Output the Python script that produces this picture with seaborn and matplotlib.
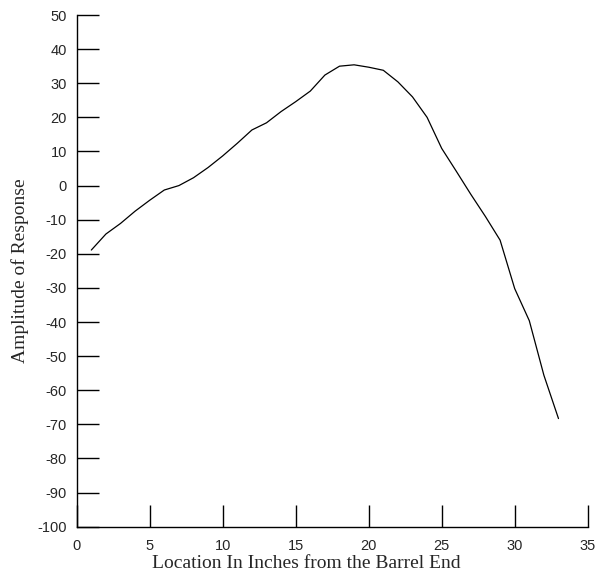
import numpy as np
import pandas as pd
import matplotlib
matplotlib.use('Agg')
import matplotlib.pyplot as plt
import seaborn as sns


# =========================
# Dados
# =========================

location = list(range(1, 34))

amplitude = [
    -18.9, -14.2, -11.1, -7.5, -4.3, -1.3, 0.0, 2.3, 5.3, 8.7,
    12.4, 16.3, 18.4, 21.7, 24.6, 27.7, 32.4, 35.0, 35.4, 34.7,
    33.8, 30.4, 26.0, 20.0, 10.9, 4.2, -2.6, -9.1, -16.0, -30.2,
    -39.6, -55.6, -68.3,
]

df = pd.DataFrame({'location': location, 'amplitude': amplitude})


# =========================
# Grafico
# =========================

sns.set_style('ticks')
plt.rcParams['axes.unicode_minus'] = False

fig = plt.figure(figsize=(5.97, 5.73), dpi=100)
ax = fig.add_axes([0.1285, 0.0808, 0.8559, 0.893])

sns.lineplot(
    data=df,
    x='location',
    y='amplitude',
    color='black',
    linewidth=0.9,
    ax=ax
)

ax.set_xlim(0, 35)
ax.set_ylim(-100, 50)
ax.set_xticks(np.arange(0, 36, 5))
ax.set_yticks(np.arange(-100, 51, 10))

ax.tick_params(
    direction='in',
    length=16,
    width=1,
    color='black',
    labelsize=10.5,
    pad=7
)
ax.tick_params(axis='x', pad=9)

for lab in ax.get_xticklabels() + ax.get_yticklabels():
    lab.set_family('Liberation Sans')

ax.set_xlabel(
    'Location In Inches from the Barrel End',
    family='Liberation Serif',
    fontsize=14,
    labelpad=1
)
ax.xaxis.label.set_x(0.45)

ax.set_ylabel(
    'Amplitude of Response',
    family='Liberation Serif',
    fontsize=14,
    labelpad=6
)

sns.despine(ax=ax)
for s in ['left', 'bottom']:
    ax.spines[s].set_color('black')
    ax.spines[s].set_linewidth(1)

fig.savefig('out.png', dpi=100)
